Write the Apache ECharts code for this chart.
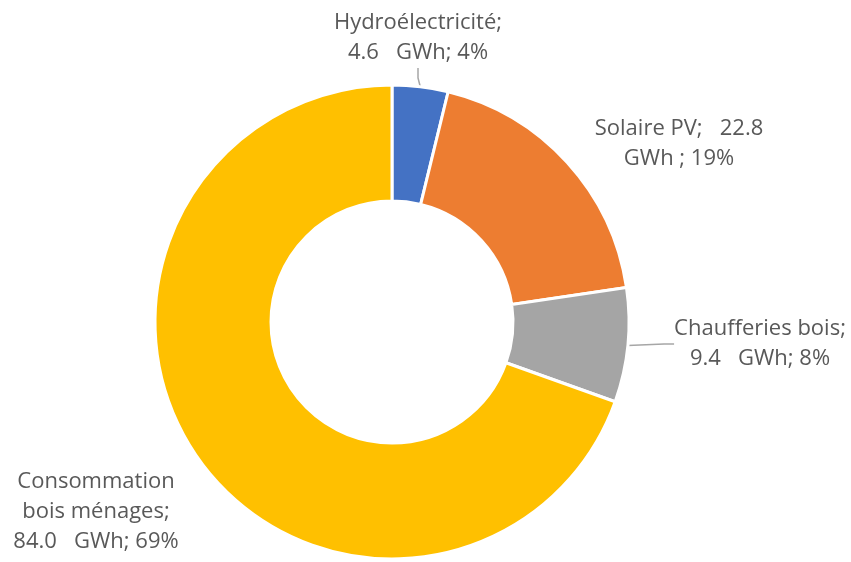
<!DOCTYPE html>
<html>
<head>
<meta charset="utf-8">
<script src="https://cdn.jsdelivr.net/npm/echarts@6/dist/echarts.min.js"></script>
<style>
  html, body { margin: 0; padding: 0; background: #ffffff; }
  #chart { width: 851px; height: 562px; }
</style>
</head>
<body>
<div id="chart"></div>
<script>
// données (GWh)
const categories = ['Hydroélectricité', 'Solaire PV', 'Chaufferies bois', 'Consommation bois ménages']
const values = [4.6, 22.8, 9.4, 84.0]
const colors = ['#4472C4', '#ED7D31', '#A5A5A5', '#FFC000']

// gabarit de chaque étiquette : {n} nom, {v} valeur, {p} pourcentage
const labelFormats = [
  '{n};\n{v}   GWh; {p}%',
  '{n};   {v}\nGWh ; {p}%',
  '{n};\n{v}   GWh; {p}%',
  'Consommation\nbois ménages;\n{v}   GWh; {p}%'
]
// position (centre) des étiquettes
const labelPos = [[418, 38], [679, 144], [760, 344], [96, 512]]
// lignes de rappel visibles
const showLine = [true, false, true, false]

const chart = echarts.init(document.getElementById('chart'), null, { renderer: 'canvas' })

const option = {
  backgroundColor: '#ffffff',
  animation: false,
  series: [
    {
      type: 'pie',
      center: [392, 322],
      radius: [121, 237],
      startAngle: 90,
      clockwise: true,
      percentPrecision: 0,
      itemStyle: {
        borderColor: '#ffffff',
        borderWidth: 3
      },
      label: {
        show: true,
        position: 'outside',
        color: '#595959',
        fontFamily: 'Open Sans',
        fontSize: 22,
        lineHeight: 30,
        align: 'center',
        overflow: 'none',
        formatter: function (p) {
          return labelFormats[p.dataIndex]
            .replace('{n}', p.name)
            .replace('{v}', p.value.toFixed(1))
            .replace('{p}', p.percent)
        }
      },
      labelLine: {
        show: true,
        length: 10,
        length2: 10,
        lineStyle: { color: '#A6A6A6', width: 1.5 }
      },
      labelLayout: function (params) {
        const pos = labelPos[params.dataIndex]
        return {
          x: pos[0],
          y: pos[1],
          align: 'center',
          verticalAlign: 'middle'
        }
      },
      data: values.map((v, i) => ({
        name: categories[i],
        value: v,
        itemStyle: { color: colors[i] },
        labelLine: { show: showLine[i] }
      }))
    }
  ]
}

chart.setOption(option)
</script>
</body>
</html>
